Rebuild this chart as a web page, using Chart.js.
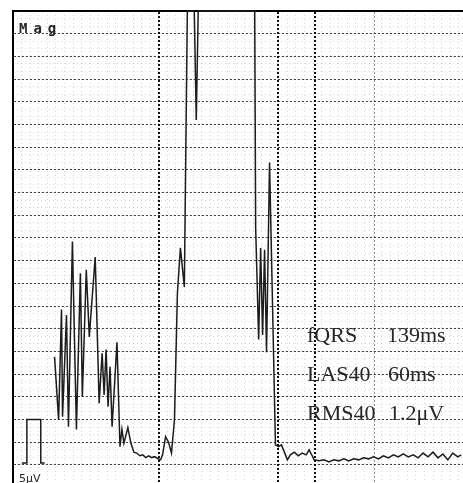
<!DOCTYPE html>
<html><head><meta charset="utf-8">
<script src="https://cdn.jsdelivr.net/npm/chart.js@4.4.1/dist/chart.umd.min.js"></script>
<style>
html,body{margin:0;padding:0;background:#fff;}
#wrap{position:relative;width:463px;height:483px;overflow:hidden;background:#fff;}
canvas{position:absolute;left:0;top:0;}
.lbl{position:absolute;white-space:pre;color:#262626;}
.ann{font-family:'Liberation Serif','Times New Roman',serif;font-size:22px;line-height:22px;}
</style></head><body>
<div id="wrap">
<canvas id="c" width="463" height="483"></canvas>
<div class="lbl" style="left:19px;top:21px;font-family:'DejaVu Sans Mono',monospace;font-weight:bold;font-size:14px;line-height:14px;letter-spacing:6px;">Mag</div>
<div class="lbl ann" style="left:307px;top:324px;">fQRS</div>
<div class="lbl ann" style="left:387px;top:324px;">139ms</div>
<div class="lbl ann" style="left:307px;top:363px;">LAS40</div>
<div class="lbl ann" style="left:388px;top:363px;">60ms</div>
<div class="lbl ann" style="left:307px;top:402px;">RMS40</div>
<div class="lbl ann" style="left:389px;top:402px;">1.2μV</div>
<div class="lbl" style="left:19px;top:473px;font-family:'DejaVu Sans',sans-serif;font-size:11px;line-height:11px;">5μV</div>
</div>
<script>
// ---- data (time in ms, amplitude in microvolts) ----
const timeMs = [48.5,53.2,56.6,57.8,62.4,64.7,69.3,74.0,78.6,80.9,85.5,89.0,95.9,100.5,104.0,106.3,108.6,110.9,113.2,115.6,121.3,124.8,127.1,129.4,134.0,137.5,141.0,144.4,147.9,151.4,154.9,158.3,161.8,165.3,168.7,172.2,174.5,178.0,181.4,184.9,188.4,191.8,195.3,199.9,203.4,211.5,213.8,216.1,282.0,283.1,286.6,288.9,291.2,293.5,295.8,299.3,306.2,309.7,313.2,316.6,320.1,323.6,328.2,332.8,337.4,342.1,345.5,349.0,351.3,357.1,362.9,368.6,374.4,380.2,386.0,391.7,397.5,403.3,409.1,414.9,420.6,426.4,432.2,438.0,443.8,449.5,455.3,461.1,466.9,472.6,478.4,484.2,490.0,495.8,501.5,507.3,513.1,518.9,523.0];
const signalUv = [11.9,4.95,17.1,5.3,16.5,4.2,24.6,3.9,21.1,7.5,21.5,14.1,22.9,6.8,12.3,7.7,12.7,6.4,10.8,4.2,13.5,2.0,3.9,2.4,4.1,2.4,1.4,1.3,1.0,1.1,0.8,1.0,0.8,0.9,0.7,0.55,1.1,3.1,2.5,1.3,5.0,18.9,23.9,19.6,50,50,38.0,50,50,26.1,13.8,23.9,14.3,23.7,12.4,33.3,2.2,2.0,2.2,1.4,0.55,1.1,1.4,1.0,1.3,1.1,1.65,1.0,0.55,0.44,0.55,0.33,0.55,0.44,0.66,0.44,0.66,0.55,0.77,0.66,0.88,0.66,1.0,0.77,1.1,0.88,1.2,0.88,1.1,0.77,1.3,0.88,1.4,0.77,1.2,0.55,1.3,0.88,1.1];
const pulseMs = [10.4,16.2,16.2,32.4,32.4,37.0];
const pulseUv = [0.2,0.2,5.0,5.0,0.2,0.2];
const markerMs = [170,309,352];
const lightMarkerMs = [422];
const gridUv = [0,2.5,5,7.5,10,12.5,15,17.5,20,22.5,25,27.5,30,32.5,35,37.5,40,42.5,45,47.5,50];
const timeRange = [0,525];
const uvRange = [-2,50];

const pts = (xs, ys) => xs.map((x,i)=>({x:x, y:ys[i]}));
const latticeX = []; for (let t=10; t<timeRange[1]; t+=10) latticeX.push(t);
const latticeY = []; for (let v=0; v<=uvRange[1]; v+=2.5/3) latticeY.push(+v.toFixed(3));

new Chart(document.getElementById('c'), {
  type: 'line',
  data: { datasets: [
    { data: pts(timeMs, signalUv), borderColor:'#1c1c1c', borderWidth:1.5, pointRadius:0, tension:0, clip:4 },
    { data: pts(pulseMs, pulseUv), borderColor:'#1c1c1c', borderWidth:1.5, pointRadius:0, tension:0, clip:4 }
  ]},
  options: {
    responsive:false, devicePixelRatio:1, animation:false,
    layout:{ padding:{ left:13, top:11, right:-5, bottom:0 } },
    plugins:{ legend:{display:false}, tooltip:{enabled:false} },
    scales:{
      x:{ type:'linear', min:timeRange[0], max:timeRange[1], position:'bottom',
          ticks:{display:false, maxTicksLimit:1000}, afterBuildTicks:s=>{ s.ticks = latticeX.map(v=>({value:v})); },
          grid:{ drawTicks:false, color:'rgba(0,0,0,0.16)', lineWidth:1 },
          border:{ display:false, dash:[1,3] } },
      xm:{ type:'linear', min:timeRange[0], max:timeRange[1], position:'top',
          ticks:{display:false},
          afterBuildTicks:s=>{ s.ticks = markerMs.concat(lightMarkerMs).map(v=>({value:v})); },
          grid:{ drawTicks:false,
                 color:c=> lightMarkerMs.includes(c.tick && c.tick.value) ? 'rgba(0,0,0,0.45)' : '#111',
                 lineWidth:c=> lightMarkerMs.includes(c.tick && c.tick.value) ? 1 : 2 },
          border:{ display:true, color:'#000', width:2, dash:[2,2] } },
      ym:{ type:'linear', min:uvRange[0], max:uvRange[1], position:'left',
          ticks:{display:false, maxTicksLimit:1000}, afterBuildTicks:s=>{ s.ticks = latticeY.map(v=>({value:v})); },
          grid:{ drawTicks:false, color:'rgba(0,0,0,0.16)', lineWidth:1 },
          border:{ display:false, dash:[1,3] } },
      y:{ type:'linear', min:uvRange[0], max:uvRange[1], position:'left',
          ticks:{display:false, maxTicksLimit:1000}, afterBuildTicks:s=>{ s.ticks = gridUv.map(v=>({value:v})); },
          grid:{ drawTicks:false, color:'rgba(0,0,0,0.72)', lineWidth:1 },
          border:{ display:true, color:'#000', width:2, dash:[2,2] } }
    }
  }
});
</script>
</body></html>
